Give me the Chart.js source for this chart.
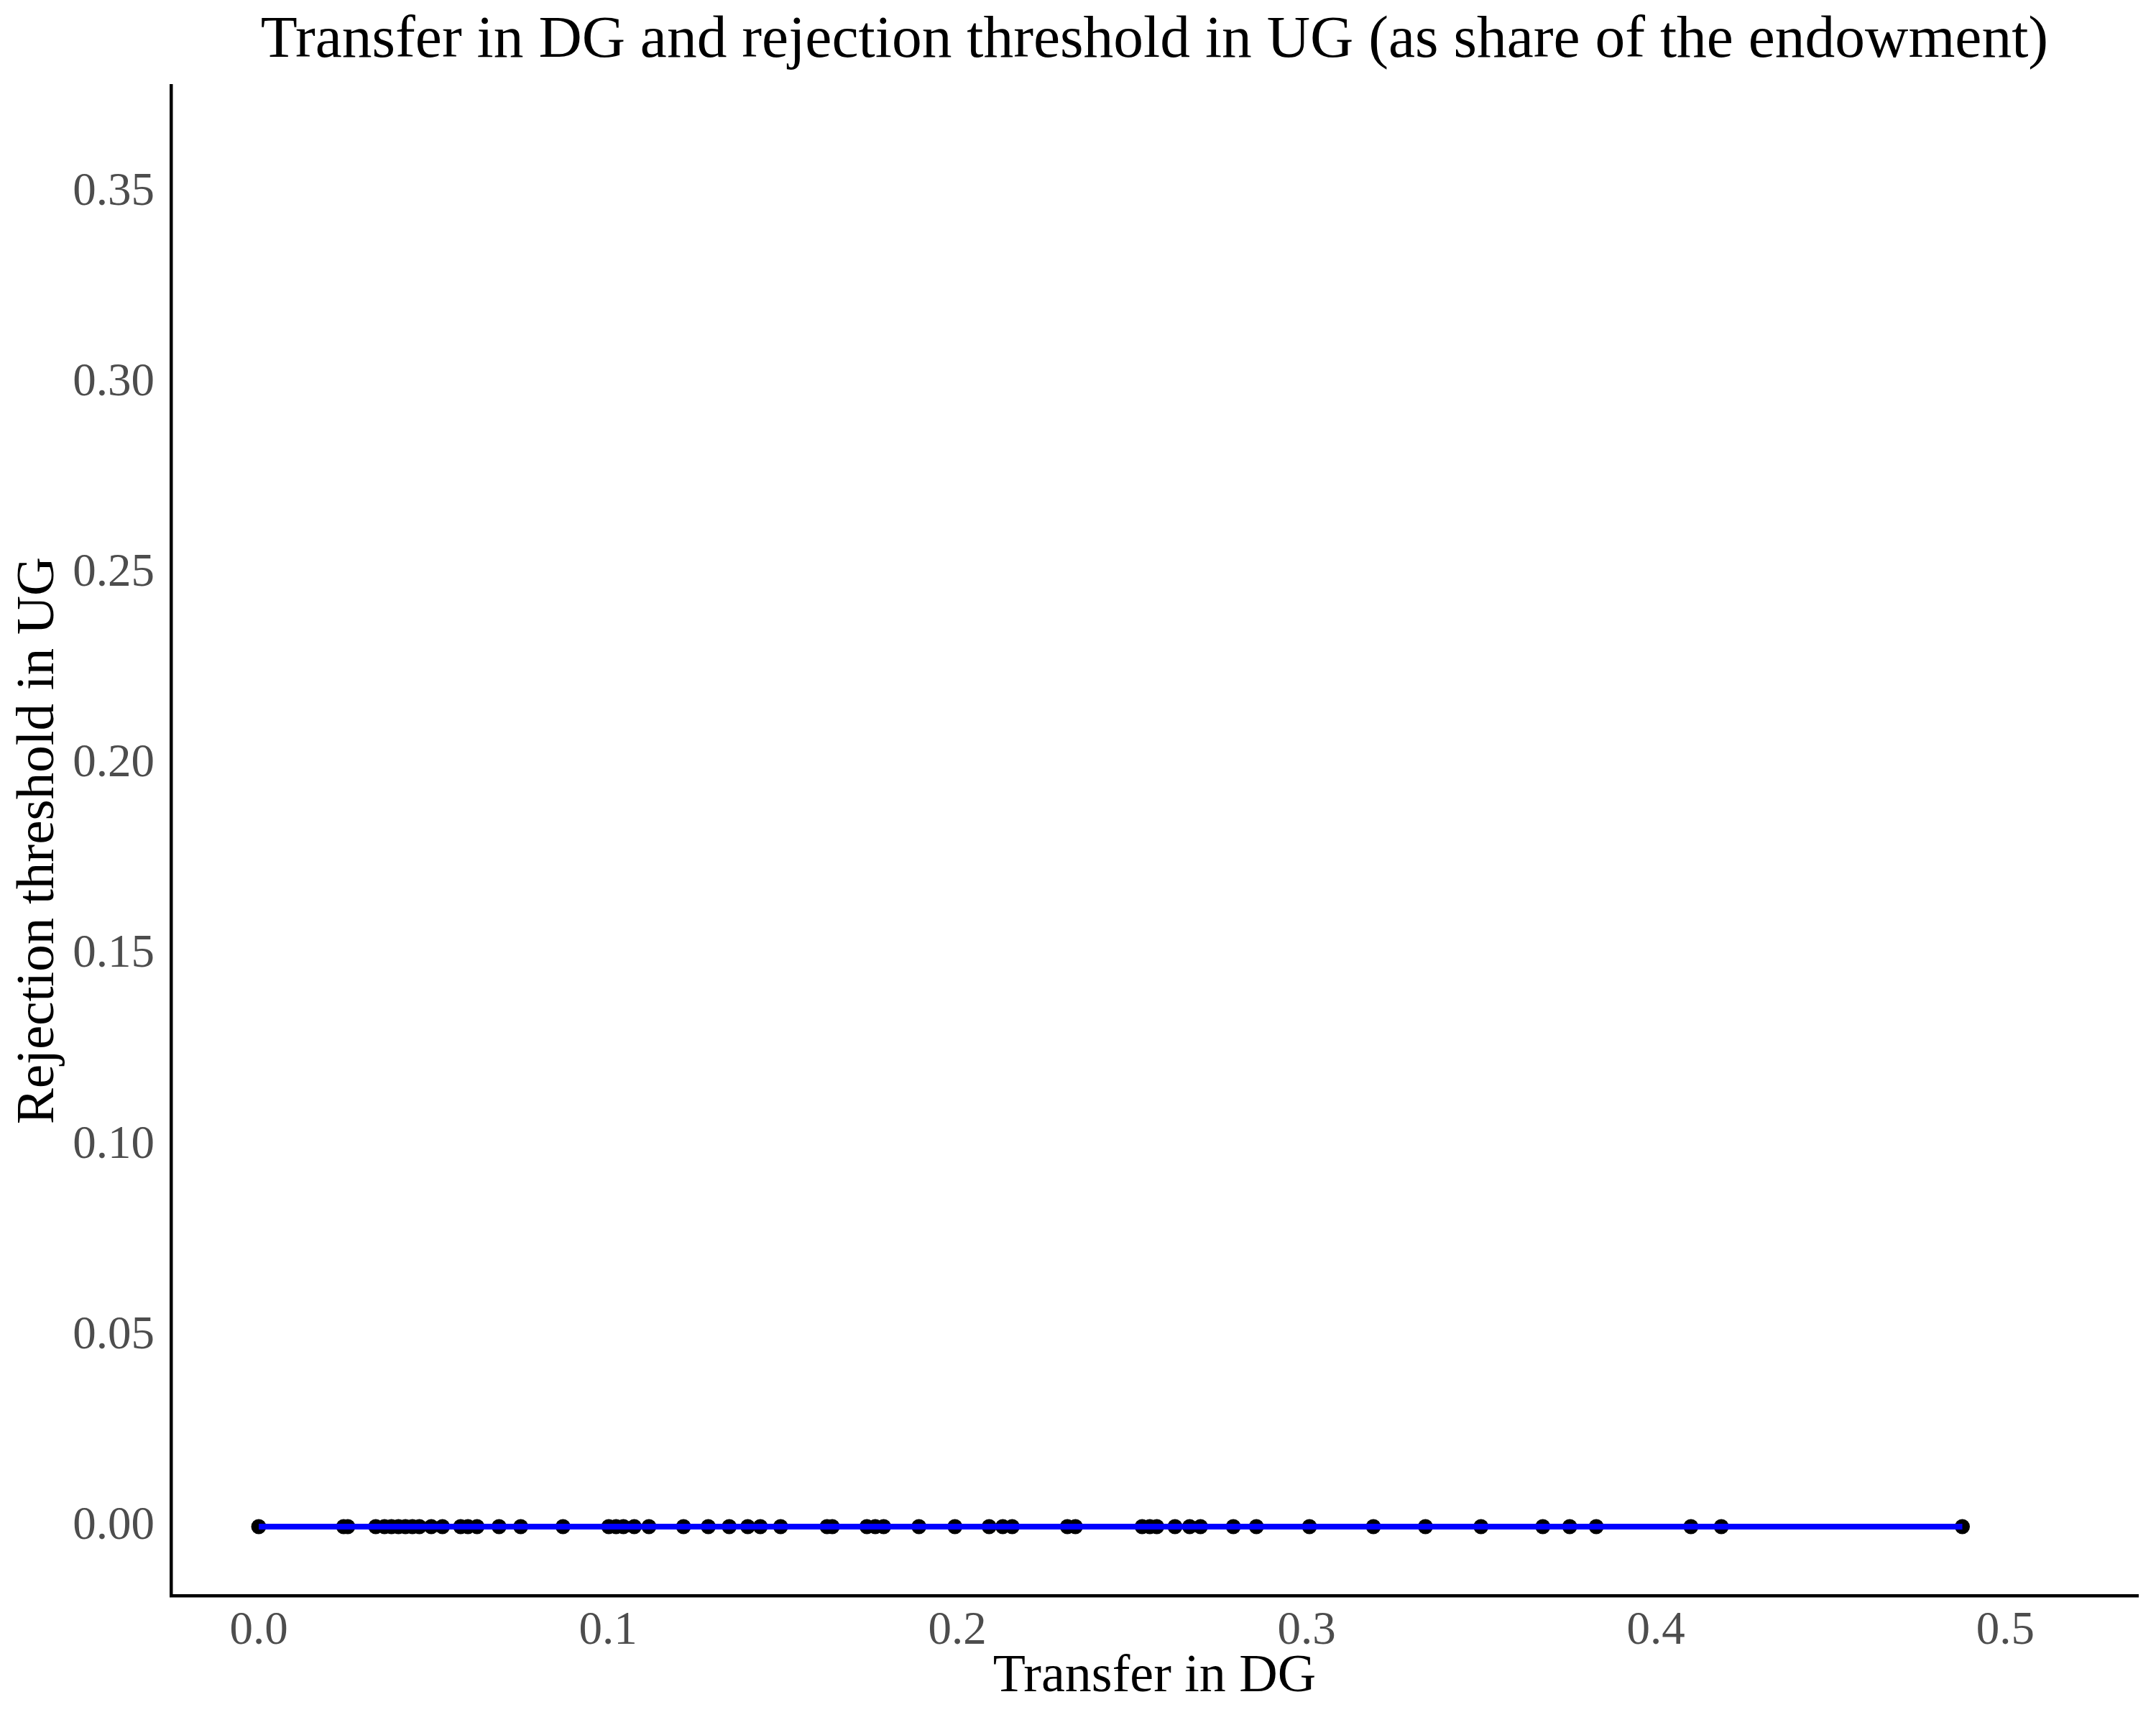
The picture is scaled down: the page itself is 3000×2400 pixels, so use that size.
<!DOCTYPE html>
<html>
<head>
<meta charset="utf-8">
<script src="https://cdn.jsdelivr.net/npm/chart.js@4.4.1/dist/chart.umd.min.js"></script>
<style>
  html, body { margin: 0; padding: 0; background: #fff; }
  canvas { display: block; }
</style>
</head>
<body>
<canvas id="chart" width="3000" height="2400"></canvas>
<script>
// transfer in DG (share of endowment), one value per subject
const transferDG = [
    0.0000, 0.0243, 0.0255, 0.0335, 0.0360, 0.0380, 0.0400, 0.0420, 0.0440, 0.0460,
    0.0494, 0.0526, 0.0578, 0.0599, 0.0625, 0.0688, 0.0750, 0.0871,
    0.1002, 0.1023, 0.1044, 0.1075, 0.1117, 0.1216, 0.1287, 0.1347, 0.1400, 0.1436, 0.1494,
    0.1627, 0.1642, 0.1741, 0.1765, 0.1789, 0.1890, 0.1993,
    0.2091, 0.2130, 0.2157, 0.2315, 0.2338, 0.2529, 0.2551, 0.2571, 0.2623, 0.2665, 0.2696,
    0.2790, 0.2856, 0.3008, 0.3191, 0.3340, 0.3499, 0.3676, 0.3753, 0.3829,
    0.4100, 0.4187, 0.4877
];
// rejection threshold in UG, all zero
const rejectionUG = transferDG.map(() => 0);

// fitted line
const fitX = [0.0000, 0.4877];
const fitY = [0, 0];

const xTicks = [0.0, 0.1, 0.2, 0.3, 0.4, 0.5];
const xTickLabels = ['0.0', '0.1', '0.2', '0.3', '0.4', '0.5'];
const yTicks = [0.00, 0.05, 0.10, 0.15, 0.20, 0.25, 0.30, 0.35];
const yTickLabels = ['0.00', '0.05', '0.10', '0.15', '0.20', '0.25', '0.30', '0.35'];

const titleText = 'Transfer in DG and rejection threshold in UG (as share of the endowment)';
const serif = "'Liberation Serif', 'Times New Roman', serif";

const titlePlugin = {
    id: 'panelTitle',
    afterDraw(chart) {
        const ctx = chart.ctx;
        const area = chart.chartArea;
        ctx.save();
        ctx.font = '83.5px ' + serif;
        ctx.fillStyle = '#000';
        ctx.textAlign = 'center';
        ctx.textBaseline = 'alphabetic';
        ctx.fillText(titleText, (area.left + area.right) / 2, 79);
        ctx.restore();
    }
};

const scatterPts = transferDG.map((x, i) => ({ x: x, y: rejectionUG[i] }));
const fitPts = fitX.map((x, i) => ({ x: x, y: fitY[i] }));

new Chart(document.getElementById('chart'), {
    type: 'scatter',
    data: {
        datasets: [
            {
                label: 'fit',
                data: fitPts,
                showLine: true,
                borderColor: '#0000FF',
                borderWidth: 8,
                pointRadius: 0,
                fill: false
            },
            {
                label: 'subjects',
                data: scatterPts,
                backgroundColor: '#000',
                borderWidth: 0,
                pointRadius: 10.5
            }
        ]
    },
    options: {
        responsive: false,
        animation: false,
        devicePixelRatio: 1,
        layout: { padding: { top: 119, right: 25, left: 0, bottom: 0 } },
        plugins: {
            legend: { display: false },
            tooltip: { enabled: false },
            title: { display: false }
        },
        scales: {
            x: {
                type: 'linear',
                min: -0.0251,
                max: 0.538,
                afterFit: s => { s.height = 180; },
                afterBuildTicks: s => { s.ticks = xTicks.map(v => ({ value: v })); },
                grid: { display: false, drawTicks: false },
                border: { display: true, color: '#000', width: 4.5 },
                ticks: {
                    padding: 11,
                    color: '#4D4D4D',
                    font: { family: serif, size: 65, lineHeight: 1.2 },
                    maxRotation: 0,
                    callback: (v, i) => xTickLabels[i]
                },
                title: {
                    display: true,
                    text: 'Transfer in DG',
                    color: '#000',
                    font: { family: serif, size: 74, lineHeight: 1.2 },
                    padding: { top: 0, bottom: 22 }
                }
            },
            y: {
                type: 'linear',
                min: -0.0181,
                max: 0.378,
                afterFit: s => { s.width = 238; },
                afterBuildTicks: s => { s.ticks = yTicks.map(v => ({ value: v })); },
                grid: { display: false, drawTicks: false },
                border: { display: true, color: '#000', width: 4.5 },
                ticks: {
                    padding: 23,
                    color: '#4D4D4D',
                    font: { family: serif, size: 65, lineHeight: 1.2 },
                    callback: (v, i) => yTickLabels[i]
                },
                title: {
                    display: true,
                    text: 'Rejection threshold in UG',
                    color: '#000',
                    font: { family: serif, size: 75, lineHeight: 1.2 },
                    padding: { top: 9, bottom: 0 }
                }
            }
        }
    },
    plugins: [titlePlugin]
});
</script>
</body>
</html>
